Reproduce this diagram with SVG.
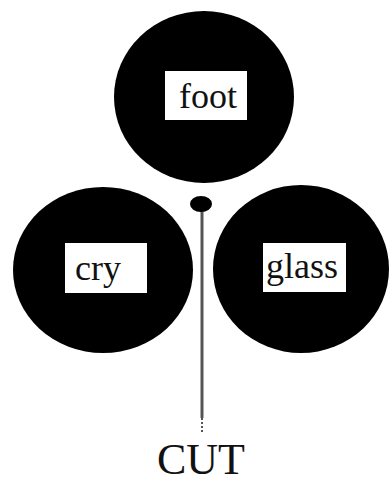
<svg xmlns="http://www.w3.org/2000/svg" width="392" height="485" viewBox="0 0 392 485">
<style>
.blob{fill:#000}
.box{fill:#fff}
.lbl{font-family:"Liberation Serif","Times New Roman",serif;font-size:36px;fill:#111;text-anchor:middle}
.cut{font-family:"Liberation Serif","Times New Roman",serif;font-size:44px;fill:#111;text-anchor:middle}
</style>
<rect width="392" height="485" fill="#fff"/>
<g id="foot">
<ellipse class="blob" cx="204" cy="97" rx="90" ry="86"/>
<rect class="box" x="165" y="71" width="82" height="49"/>
<text class="lbl" x="208" y="108">foot</text>
</g>
<g id="cry">
<ellipse class="blob" cx="103" cy="270" rx="90" ry="83"/>
<rect class="box" x="65" y="243" width="82" height="50"/>
<text class="lbl" x="98" y="280">cry</text>
</g>
<g id="glass">
<ellipse class="blob" cx="301" cy="269" rx="88" ry="84"/>
<rect class="box" x="263" y="243" width="83" height="49"/>
<text class="lbl" x="302" y="278">glass</text>
</g>
<g id="connectors">
<line x1="202" y1="206" x2="202" y2="418" stroke="#555" stroke-width="3"/>
<line x1="202" y1="418" x2="202" y2="432" stroke="#555" stroke-width="2" stroke-dasharray="2 2"/>
<ellipse cx="201" cy="204" rx="11" ry="8" fill="#000"/>
</g>
<g id="cut">
<text class="cut" x="201" y="474">CUT</text>
</g>
</svg>
